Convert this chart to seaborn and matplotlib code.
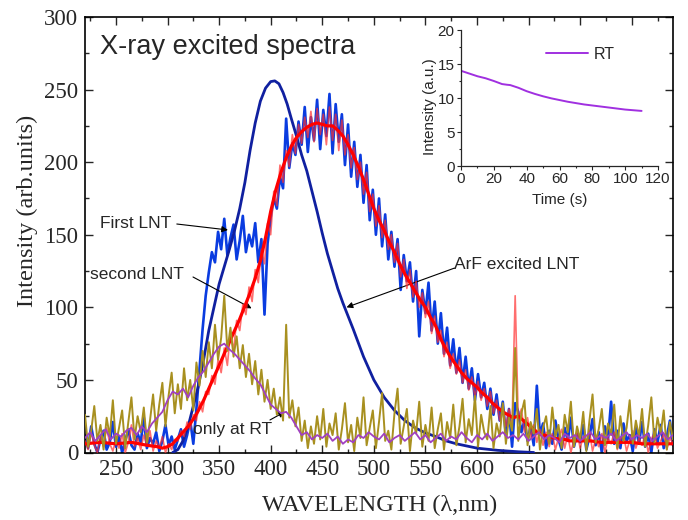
import numpy as np
import matplotlib
matplotlib.use("Agg")
import matplotlib.pyplot as plt
import seaborn as sns
from matplotlib.ticker import MultipleLocator

sns.set_style("ticks")
plt.rcParams['font.family'] = ['Liberation Serif', 'DejaVu Serif']
SANS = ['Liberation Sans', 'DejaVu Sans']

# ---------------- data ----------------
wl_fine = np.arange(220, 791, 3)          # sampling positions (nm)

first_lnt = [
    12, 3, 18, 6, 0, 9, 15, 2, 7, 21,
    4, 11, 0, 8, 16, 5, 2, 13, 7, 24,
    3, 10, 6, 14, 1, 8, 19, 5, 11, 2,
    9, 16, 4, 12, 22, 6, 30, 58, 85, 108,
    124, 138, 131, 152, 140, 161, 136, 148, 157, 133,
    146, 163, 138, 150, 142, 158, 131, 147, 95, 144,
    162, 175, 168, 190, 182, 230, 196, 213, 205, 228,
    212, 238, 207, 231, 215, 243, 209, 236, 218, 247,
    206, 240, 214, 233, 198, 226, 190, 214, 183, 205,
    172, 198, 160, 181, 150, 175, 142, 164, 133, 152,
    128, 147, 112, 136, 118, 131, 104, 125, 80, 112,
    96, 117, 84, 104, 75, 96, 68, 86, 60, 78,
    55, 72, 48, 66, 44, 58, 36, 54, 38, 48,
    30, 44, 26, 40, 22, 35, 12, 30, 4, 34,
    28, 14, 22, 8, 18, 5, 46, 12, 20, 3,
    15, 6, 22, 9, 2, 17, 8, 24, 4, 13,
    7, 19, 2, 11, 23, 5, 14, 0, 18, 9,
    35, 6, 15, 3, 20, 8, 12, 1, 17, 6,
    21, 4, 13, 0, 16, 7, 19, 3, 11, 22,
    5,
]

second_lnt_raw = [
    8, 2, 14, 5, 0, 11, 4, 17, 6, 1,
    9, 3, 13, 0, 7, 19, 4, 10, 2, 12,
    5, 15, 1, 8, 3, 11, 0, 6, 2, 9,
    8, 15, 11, 21, 16, 26, 22, 35, 28, 42,
    40, 53, 47, 64, 55, 72, 60, 83, 70, 91,
    84, 102, 95, 114, 104, 126, 117, 140, 130, 158,
    150, 180, 170, 198, 186, 208, 197, 219, 206, 226,
    213, 231, 217, 235, 214, 237, 219, 233, 212, 238,
    215, 233, 208, 229, 205, 219, 196, 210, 188, 200,
    178, 193, 166, 178, 156, 170, 148, 160, 140, 150,
    131, 144, 121, 133, 113, 126, 107, 118, 100, 110,
    93, 104, 82, 94, 76, 84, 66, 76, 58, 68,
    54, 64, 48, 57, 43, 52, 38, 49, 36, 44,
    32, 42, 27, 36, 22, 32, 18, 30, 20, 108,
    22, 30, 14, 24, 10, 19, 7, 16, 5, 14,
    4, 13, 2, 10, 16, 3, 12, 0, 9, 14,
    3, 11, 6, 15, 1, 9, 4, 13, 0, 10,
    6, 14, 2, 9, 12, 1, 8, 15, 3, 10,
    5, 12, 0, 9, 14, 3, 8, 13, 2, 10,
    6,
]

only_rt_raw = [
    26, 4, 15, 32, 8, 19, 2, 24, 11, 36,
    6, 17, 29, 3, 21, 38, 9, 25, 14, 31,
    7, 22, 40, 15, 33, 48, 18, 39, 55, 27,
    47, 30, 58, 36, 50, 29, 62, 46, 70, 52,
    76, 58, 88, 64, 79, 108, 70, 86, 66, 80,
    58, 74, 52, 68, 47, 63, 40, 57, 35, 50,
    30, 44, 26, 38, 22, 88, 24, 36, 18, 31,
    8, 22, 3, 18, 6, 25, 9, 30, 4, 20,
    12, 27, 2, 16, 34, 7, 19, 1, 24, 10,
    38, 5, 17, 29, 3, 21, 41, 8, 15, 2,
    27, 44, 6, 18, 30, 1, 22, 13, 35, 4,
    19, 8, 31, 3, 16, 27, 2, 21, 10, 33,
    5, 18, 37, 7, 23, 12, 39, 4, 26, 14,
    9, 32, 3, 20, 11, 34, 6, 24, 15, 72,
    8, 27, 36, 5, 21, 13, 30, 2, 17, 25,
    6, 31, 11, 19, 3, 26, 14, 35, 4, 18,
    9, 28, 1, 22, 40, 7, 16, 30, 5, 20,
    12, 33, 3, 25, 8, 17, 36, 6, 22, 11,
    30, 4, 19, 38, 7, 24, 13, 29, 2, 21,
    9,
]

wl_rt_avg = np.arange(220, 791, 5)
only_rt_avg = [
    10, 14, 8, 12, 16, 9, 13, 11, 15, 17,
    12, 18, 14, 20, 24, 28, 36, 42, 40, 44,
    38, 46, 52, 56, 62, 68, 73, 75, 71, 68,
    64, 60, 56, 51, 47, 40, 33, 30, 27, 28,
    24, 18, 12, 14, 9, 12, 10, 13, 8, 11,
    6, 9, 7, 12, 10, 14, 11, 9, 13, 7,
    10, 12, 8, 11, 14, 9, 12, 7, 10, 13,
    8, 11, 9, 14, 10, 7, 12, 9, 13, 8,
    11, 14, 10, 12, 9, 13, 8, 11, 14, 9,
    12, 10, 7, 13, 10, 12, 8, 11, 14, 9,
    12, 10, 13, 8, 11, 14, 9, 12, 10, 13,
    8, 11, 14, 9, 12,
]

wl_second_smooth = [220, 235, 250, 265, 280, 290, 295, 300, 305, 310, 315, 320, 325,
                    330, 335, 340, 345, 350, 355, 360, 365, 370, 375, 380, 385, 390,
                    395, 400, 405, 410, 415, 420, 425, 430, 435, 440, 445, 450, 455,
                    460, 465, 470, 475, 480, 485, 490, 495, 500, 505, 510, 515, 520,
                    525, 530, 535, 540, 545, 550, 555, 560, 565, 570, 575, 580, 585,
                    590, 595, 600, 605, 610, 615, 620, 625, 630, 635, 640, 645, 650,
                    655, 660, 665, 670, 675, 680, 685, 690, 700, 710, 720, 730, 740,
                    750, 760, 770, 780, 790]
second_lnt_smooth = [6, 7, 6, 7, 5, 4, 3, 4, 6, 10, 14, 18, 23,
                     29, 36, 44, 52, 60, 68, 76, 84, 92, 101, 110, 120, 132,
                     148, 166, 181, 193, 203, 211, 217, 221, 224, 226, 227, 226, 225,
                     225, 222, 218, 212, 205, 197, 188, 178, 168, 160, 153, 145, 138,
                     130, 123, 117, 111, 105, 100, 93, 87, 78, 71, 65, 60, 55,
                     51, 48, 45, 41, 38, 34, 31, 28, 26, 24, 25, 22, 19,
                     16, 13, 12, 11, 10, 9, 9, 8, 8, 8, 7, 7, 7,
                     7, 6, 6, 6, 6]

wl_arf = [305, 310, 315, 320, 325, 330, 335, 340, 345, 350, 355, 360, 365, 370,
          375, 380, 385, 390, 395, 400, 404, 408, 412, 416, 420, 425, 430, 435,
          440, 445, 450, 455, 460, 465, 470, 475, 480, 490, 500, 510, 520, 530,
          540, 550, 560, 570, 580, 590, 600, 620, 640, 655]
arf_lnt = [0, 2, 8, 18, 32, 46, 64, 84, 100, 116, 128, 140, 153, 168,
           186, 208, 227, 242, 251, 255.5, 256, 254, 248, 240, 230, 218, 205, 194,
           180, 166, 151, 137, 125, 113, 103, 94, 85, 66, 50, 38, 29, 22,
           17, 13.5, 11, 8, 6, 4.5, 3, 1.5, 0.5, 0]

time_s = [0, 5, 10, 15, 20, 25, 28, 30, 35, 40, 45, 50, 55, 60, 65, 70, 75,
          80, 85, 90, 95, 100, 105, 110]
rt_decay = [14.0, 13.6, 13.2, 12.9, 12.5, 12.05, 11.95, 11.9, 11.5, 11.0, 10.6,
            10.25, 9.95, 9.7, 9.45, 9.25, 9.05, 8.9, 8.75, 8.6, 8.45, 8.3, 8.2, 8.1]

# ---------------- figure ----------------
fig = plt.figure(figsize=(6.88, 5.2), dpi=100)
ax = fig.add_axes([85 / 688, 1 - 452.5 / 520, 588 / 688, 435.5 / 520])

kw = dict(ax=ax, estimator=None, sort=False, legend=False)
sns.lineplot(x=wl_fine, y=first_lnt, color="#0a3ce0", linewidth=1.9, zorder=2, **kw)
sns.lineplot(x=wl_arf, y=arf_lnt, color="#1020a0", linewidth=2.0, zorder=3, **kw)
sns.lineplot(x=wl_fine, y=second_lnt_raw, color="#ff3030", alpha=0.7, linewidth=1.2, zorder=4, **kw)
sns.lineplot(x=wl_second_smooth, y=second_lnt_smooth, color="#ff0000", linewidth=2.3, zorder=5, **kw)
sns.lineplot(x=wl_fine, y=only_rt_raw, color="#a89020", linewidth=1.4, zorder=6, **kw)
sns.lineplot(x=wl_rt_avg, y=only_rt_avg, color="#a040c0", linewidth=1.3, zorder=7, **kw)

ax.set_xlim(220, 790)
ax.set_ylim(0, 300)
ax.xaxis.set_major_locator(MultipleLocator(50))
ax.xaxis.set_minor_locator(MultipleLocator(25))
ax.yaxis.set_major_locator(MultipleLocator(50))
ax.yaxis.set_minor_locator(MultipleLocator(25))
ax.tick_params(which='both', direction='in', top=True, right=True, width=1.0)
ax.tick_params(which='major', length=6, labelsize=16.5, pad=5)
ax.tick_params(which='minor', length=3)
for s in ax.spines.values():
    s.set_linewidth(1.2)
    s.set_color('black')
ax.set_xlabel("")
ax.set_ylabel("")

fig.text(380 / 688, 1 - 505 / 520, "WAVELENGTH (λ,nm)", ha='center', va='center', fontsize=17.5)
fig.text(27 / 688, 1 - 211 / 520, "Intensity (arb.units)", ha='center', va='center',
         rotation=90, fontsize=17.5)

ax.text(0.0255, 0.931, "X-ray excited spectra", transform=ax.transAxes,
        ha='left', va='center', fontsize=19.5, family=SANS)

arrow = dict(arrowstyle='-|>', color='black', lw=0.8, mutation_scale=9, shrinkA=0, shrinkB=0)
af = 12.5
ax.text(235, 157.6, "First LNT", ha='left', va='center', fontsize=af, family=SANS)
ax.annotate("", xy=(358.6, 153.3), xytext=(309, 157.4), arrowprops=arrow)
ax.text(225, 122.3, "second LNT", ha='left', va='center', fontsize=af, family=SANS, zorder=10)
ax.annotate("", xy=(381.5, 99.3), xytext=(324.7, 120.9), arrowprops=arrow)
ax.text(578, 129.2, "ArF excited LNT", ha='left', va='center', fontsize=af, family=SANS)
ax.annotate("", xy=(473.5, 100), xytext=(578, 127), arrowprops=arrow)
ax.text(324.7, 15.5, "only at RT", ha='left', va='center', fontsize=af, family=SANS, zorder=10)
ax.annotate("", xy=(413.8, 28.1), xytext=(399.3, 22.4), arrowprops=arrow)

# ---------------- inset ----------------
ax2 = fig.add_axes([461 / 688, 1 - 166 / 520, 197 / 688, 136 / 520])
sns.lineplot(x=time_s, y=rt_decay, ax=ax2, color="#a030e0", linewidth=1.4,
             estimator=None, sort=False, label="RT")
ax2.set_xlim(0, 120)
ax2.set_ylim(0, 20)
ax2.xaxis.set_major_locator(MultipleLocator(20))
ax2.xaxis.set_minor_locator(MultipleLocator(10))
ax2.yaxis.set_major_locator(MultipleLocator(5))
ax2.yaxis.set_minor_locator(MultipleLocator(2.5))
ax2.spines['top'].set_visible(False)
ax2.spines['right'].set_visible(False)
for s in ['left', 'bottom']:
    ax2.spines[s].set_linewidth(0.9)
ax2.tick_params(which='both', direction='out', width=0.8)
ax2.tick_params(which='major', length=3, labelsize=11, pad=1.5)
ax2.tick_params(which='minor', length=1.5)
for lab in ax2.get_xticklabels() + ax2.get_yticklabels():
    lab.set_family(SANS)
ax2.set_xlabel("Time (s)", fontsize=11, family=SANS)
ax2.set_ylabel("Intensity (a.u.)", fontsize=11, family=SANS)
ax2.xaxis.set_label_coords(0.5, -0.20)
ax2.yaxis.set_label_coords(-0.12, 0.44)
leg = ax2.legend(frameon=False, loc='center left', bbox_to_anchor=(0.40, 0.82),
                 handlelength=2.6, prop={'family': SANS, 'size': 11.5},
                 borderaxespad=0, handletextpad=0.4)

fig.savefig("out.png", dpi=100)
